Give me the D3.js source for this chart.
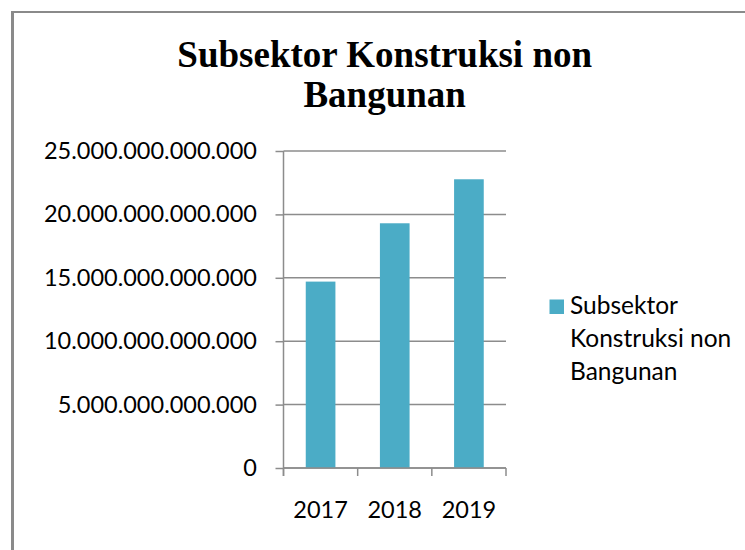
<!DOCTYPE html>
<html>
<head>
<meta charset="utf-8">
<script src="https://cdn.jsdelivr.net/npm/d3@7/dist/d3.min.js"></script>
<style>
  html, body { margin: 0; padding: 0; background: #fff; }
  svg { display: block; }
</style>
</head>
<body>
<script>
// Chart data.
const title = ["Subsektor Konstruksi non", "Bangunan"];
const years = ["2017", "2018", "2019"];
const values = [14.7e12, 19.3e12, 22.77e12];
const yTicks = [0, 5e12, 10e12, 15e12, 20e12, 25e12];
const legendLines = ["Subsektor", "Konstruksi non", "Bangunan"];

const W = 745, H = 550;
const barColor = "#4bacc6";
const gridColor = "#8c8c8c";
const labelFont = "Lato, 'Open Sans', sans-serif";

const svg = d3
  .select("body")
  .append("svg")
  .attr("width", W)
  .attr("height", H);

svg.append("rect").attr("width", W).attr("height", H).attr("fill", "#fff");

// Outer chart frame (runs off the right and bottom of the picture).
svg
  .append("rect")
  .attr("x", 12.5)
  .attr("y", 12)
  .attr("width", 800)
  .attr("height", 600)
  .attr("fill", "none")
  .attr("stroke", "#8a8a8a")
  .attr("stroke-width", 2);
svg
  .append("line")
  .attr("x1", 12.5).attr("x2", 12.5)
  .attr("y1", 11).attr("y2", H)
  .attr("stroke", "#8a8a8a")
  .attr("stroke-width", 3);

// Title, two lines, centred over the chart.
svg
  .append("g")
  .selectAll("text")
  .data(title)
  .join("text")
  .attr("x", 384.7)
  .attr("y", (d, i) => 67 + i * 40)
  .attr("text-anchor", "middle")
  .attr("font-family", "'Liberation Serif', 'Times New Roman', serif")
  .attr("font-weight", "bold")
  .attr("font-size", 37)
  .attr("fill", "#000")
  .text((d) => d);

const x = d3
  .scaleBand()
  .domain(years)
  .range([283.5, 506])
  .paddingInner(0.6)
  .paddingOuter(0.3);

const y = d3.scaleLinear().domain([0, 25e12]).range([468, 151]);

const locale = d3.formatLocale({
  decimal: ",",
  thousands: ".",
  grouping: [3],
  currency: ["", ""],
});
const fmt = locale.format(",.0f");

// Horizontal gridlines.
svg
  .append("g")
  .selectAll("line")
  .data(yTicks)
  .join("line")
  .attr("x1", 283.5)
  .attr("x2", 506)
  .attr("y1", (d) => y(d))
  .attr("y2", (d) => y(d))
  .attr("stroke", gridColor)
  .attr("stroke-width", 1.5);

// Bars.
svg
  .append("g")
  .selectAll("rect")
  .data(values)
  .join("rect")
  .attr("x", (d, i) => x(years[i]))
  .attr("y", (d) => y(d))
  .attr("width", x.bandwidth())
  .attr("height", (d) => y(0) - y(d))
  .attr("fill", barColor);

// Y axis.
const yAxis = svg
  .append("g")
  .attr("transform", "translate(283.5,0)")
  .call(
    d3
      .axisLeft(y)
      .tickValues(yTicks)
      .tickFormat(fmt)
      .tickSize(8)
      .tickPadding(18.5)
  );
yAxis.select(".domain").attr("stroke", gridColor).attr("stroke-width", 1.5)
  .attr("d", "M0," + y(25e12) + "V" + (y(0) + 8));
yAxis.selectAll(".tick line").attr("stroke", gridColor).attr("stroke-width", 1.5);
yAxis
  .selectAll(".tick text")
  .attr("font-family", labelFont)
  .attr("font-size", 23.5)
  .attr("fill", "#000");

// X axis: ticks sit on the category boundaries, labels in the middle.
const step = x.step();
const bounds = years.map((d) => x(d) - step * x.paddingOuter());
bounds.push(x(years[years.length - 1]) + x.bandwidth() + step * x.paddingOuter());

const xAxis = svg.append("g");
xAxis
  .append("line")
  .attr("x1", bounds[0])
  .attr("x2", bounds[bounds.length - 1])
  .attr("y1", y(0))
  .attr("y2", y(0))
  .attr("stroke", gridColor)
  .attr("stroke-width", 1.5);
xAxis
  .selectAll("line.tick")
  .data(bounds)
  .join("line")
  .attr("class", "tick")
  .attr("x1", (d) => d)
  .attr("x2", (d) => d)
  .attr("y1", y(0))
  .attr("y2", y(0) + 8)
  .attr("stroke", gridColor)
  .attr("stroke-width", 1.5);
xAxis
  .selectAll("text")
  .data(years)
  .join("text")
  .attr("x", (d) => x(d) + x.bandwidth() / 2)
  .attr("y", 518)
  .attr("text-anchor", "middle")
  .attr("font-family", labelFont)
  .attr("font-size", 23.5)
  .attr("fill", "#000")
  .text((d) => d);

// Legend.
const legend = svg.append("g");
legend
  .append("rect")
  .attr("x", 549.5)
  .attr("y", 299.5)
  .attr("width", 14.5)
  .attr("height", 14.5)
  .attr("fill", barColor);
legend
  .selectAll("text")
  .data(legendLines)
  .join("text")
  .attr("x", 570)
  .attr("y", (d, i) => 314 + i * 33)
  .attr("font-family", labelFont)
  .attr("font-size", 24.5)
  .attr("fill", "#000")
  .text((d) => d);
</script>
</body>
</html>
